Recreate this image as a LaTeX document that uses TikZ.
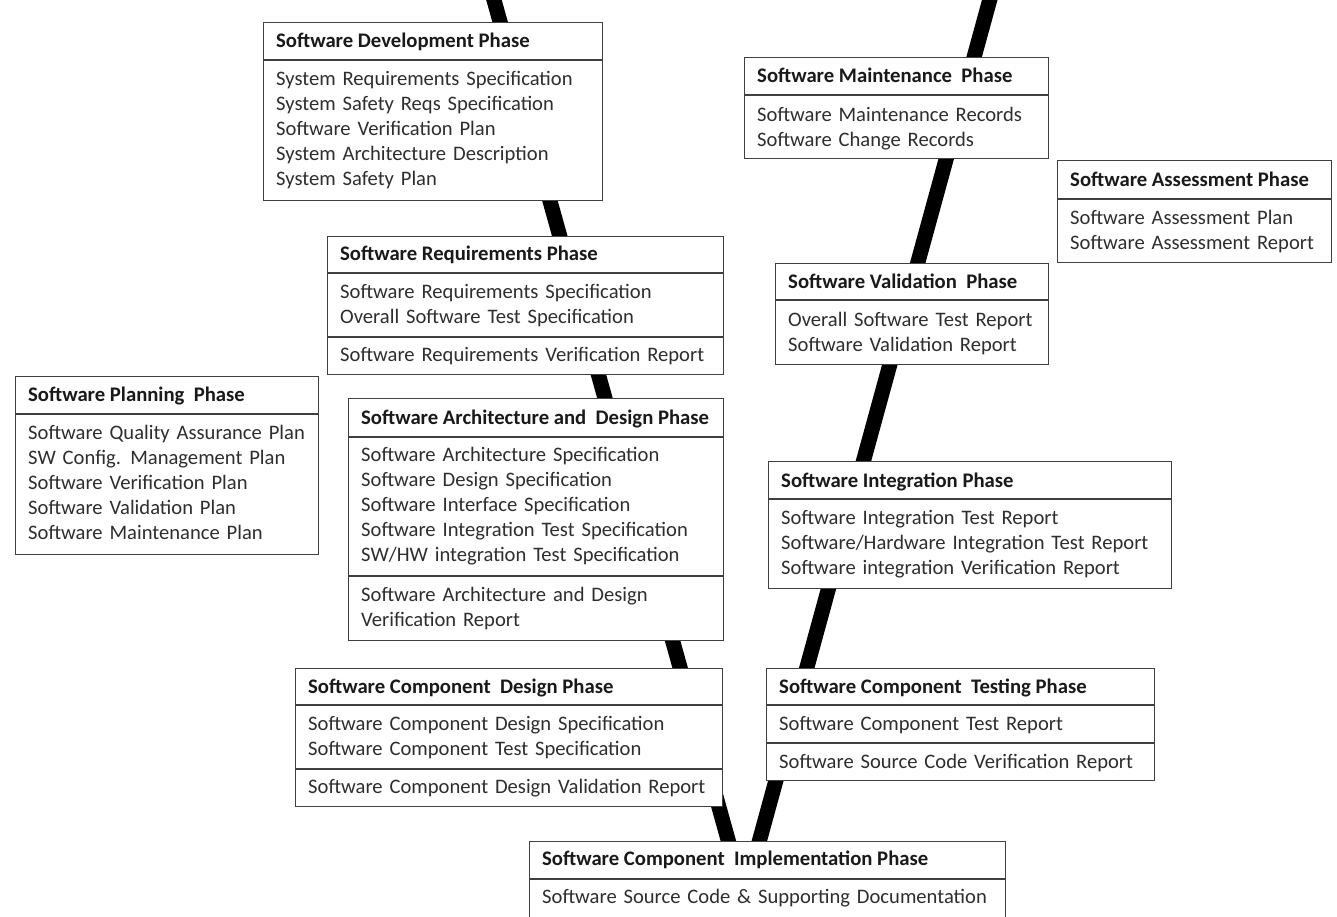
\documentclass[tikz,border=0pt]{standalone}
\usepackage{fontspec}
\setmainfont{Carlito}
\usetikzlibrary{calc}

% frame of a phase box: name, left, top, right, bottom
\newcommand\phasebox[5]{\node[frame, minimum width={#4pt-#2pt}, minimum height={#5pt-#3pt}] (#1) at (#2,#3) {};}
% horizontal rule across a phase box at height #2
\newcommand\sepline[2]{\draw[rule] (#1.west |- 0,#2) -- (#1.east |- 0,#2);}
\newcommand\wsp{\hspace{0.45em}}

\tikzset{
  frame/.style={draw=black!75, line width=1.3pt, fill=white, inner sep=0pt, anchor=north west},
  rule/.style={draw=black!75, line width=1.3pt},
  ttl/.style={font=\bfseries\fontsize{20.7}{25.2}\selectfont, text=black!90, anchor=base west, inner sep=0pt},
  itm/.style={font=\fontsize{20.6}{25.2}\selectfont, text=black!82, anchor=base west, inner sep=0pt, text width=480pt, align=left},
  vline/.style={draw=black, line width=15pt, line join=miter}
}

\begin{document}
\begin{tikzpicture}[x=1pt, y=-1pt]
\useasboundingbox (0,0) rectangle (1337,916);
\clip (0,0) rectangle (1337,916);

% the V of the life cycle
\coordinate (vl) at (488.4,-20);
\coordinate (vb) at (744,897);
\coordinate (vr) at (995.2,-20);
\draw[vline] (vl) -- (vb) -- (vr);

% Software Development Phase
\phasebox{dev}{263}{22}{602}{200}
\sepline{dev}{60}
\node[ttl] (devT) at (276,47) {Software Development Phase};
\node[itm] (devA) at (276,85) {System Requirements Specification\\System Safety Reqs Specification\\Software Verification Plan\\System Architecture Description\\System Safety Plan};

% Software Maintenance Phase
\phasebox{maint}{744}{57}{1048}{158}
\sepline{maint}{95}
\node[ttl] (maintT) at (757,82) {Software Maintenance\wsp Phase};
\node[itm] (maintA) at (757,121) {Software Maintenance Records\\Software Change Records};

% Software Assessment Phase
\phasebox{assess}{1057}{160}{1331}{262}
\sepline{assess}{199}
\node[ttl] (assessT) at (1070,186) {Software Assessment Phase};
\node[itm] (assessA) at (1070,224) {Software Assessment Plan\\Software Assessment Report};

% Software Requirements Phase
\phasebox{req}{327}{236}{723}{374}
\sepline{req}{273}
\sepline{req}{337}
\node[ttl] (reqT) at (340,260) {Software Requirements Phase};
\node[itm] (reqA) at (340,298) {Software Requirements Specification\\Overall Software Test Specification};
\node[itm] (reqB) at (340,361) {Software Requirements Verification Report};

% Software Validation Phase
\phasebox{valid}{775}{263}{1048}{364}
\sepline{valid}{300}
\node[ttl] (validT) at (788,288) {Software Validation\wsp Phase};
\node[itm] (validA) at (788,326) {Overall Software Test Report\\Software Validation Report};

% Software Planning Phase
\phasebox{plan}{15}{376}{318}{554}
\sepline{plan}{414}
\node[ttl] (planT) at (28,401) {Software Planning\wsp Phase};
\node[itm] (planA) at (28,439) {Software Quality Assurance Plan\\SW Config.\wsp Management Plan\\Software Verification Plan\\Software Validation Plan\\Software Maintenance Plan};

% Software Architecture and Design Phase
\phasebox{arch}{348}{398}{723}{640}
\sepline{arch}{437}
\sepline{arch}{576}
\node[ttl] (archT) at (361,424) {Software Architecture and\wsp Design Phase};
\node[itm] (archA) at (361,461) {Software Architecture Specification\\Software Design Specification\\Software Interface Specification\\Software Integration Test Specification\\SW/HW integration Test Specification};
\node[itm] (archB) at (361,601) {Software Architecture and Design\\Verification Report};

% Software Integration Phase
\phasebox{integ}{768}{461}{1171}{588}
\sepline{integ}{499}
\node[ttl] (integT) at (781,487) {Software Integration Phase};
\node[itm] (integA) at (781,524) {Software Integration Test Report\\Software/Hardware Integration Test Report\\Software integration Verification Report};

% Software Component Design Phase
\phasebox{cdes}{295}{668}{722}{806}
\sepline{cdes}{705}
\sepline{cdes}{769}
\node[ttl] (cdesT) at (308,693) {Software Component\wsp Design Phase};
\node[itm] (cdesA) at (308,730) {Software Component Design Specification\\Software Component Test Specification};
\node[itm] (cdesB) at (308,793) {Software Component Design Validation Report};

% Software Component Testing Phase
\phasebox{ctest}{766}{668}{1154}{780}
\sepline{ctest}{705}
\sepline{ctest}{743}
\node[ttl] (ctestT) at (779,693) {Software Component\wsp Testing Phase};
\node[itm] (ctestA) at (779,730) {Software Component Test Report};
\node[itm] (ctestB) at (779,768) {Software Source Code Verification Report};

% Software Component Implementation Phase
\phasebox{impl}{529}{841}{1005}{935}
\sepline{impl}{879}
\node[ttl] (implT) at (542,865) {Software Component\wsp Implementation Phase};
\node[itm] (implA) at (542,903) {Software Source Code \& Supporting Documentation};

\end{tikzpicture}
\end{document}
